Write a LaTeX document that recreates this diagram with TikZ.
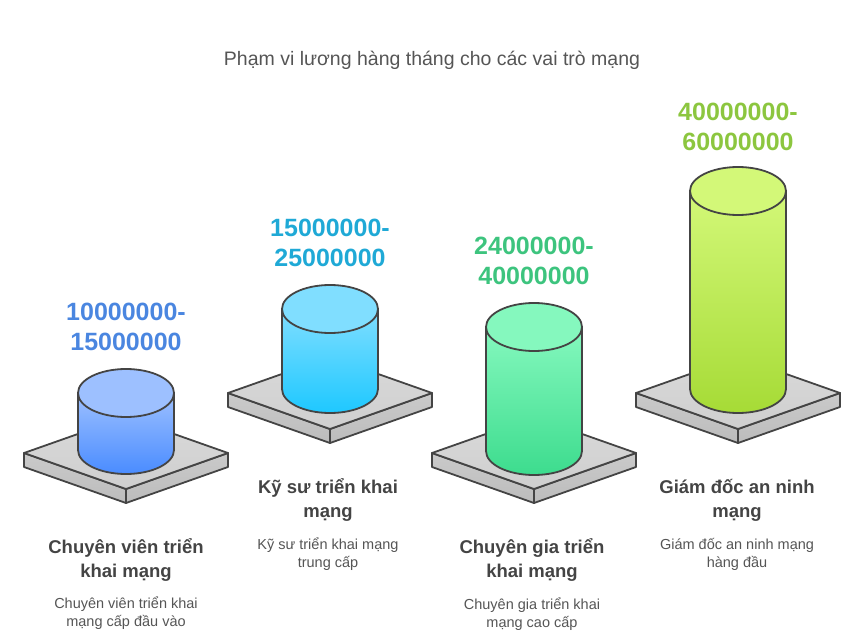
\documentclass[tikz,border=0pt]{standalone}
\usepackage{fontspec}
\setmainfont{Liberation Sans}
\usepackage{tikz}

\definecolor{linegray}{HTML}{444444}
\definecolor{sidetop}{HTML}{CACACA}
\definecolor{sidebot}{HTML}{BCBCBC}
\definecolor{plateback}{HTML}{D9D9D9}
\definecolor{platefront}{HTML}{CFCFCF}
\definecolor{titlegray}{HTML}{555555}
\definecolor{rolegray}{HTML}{444444}
\definecolor{descgray}{HTML}{555555}
\definecolor{bluetop}{HTML}{9DC0FF}
\definecolor{bluebot}{HTML}{4A8CFF}
\definecolor{blueval}{HTML}{4A86E0}
\definecolor{cyantop}{HTML}{80DEFF}
\definecolor{cyanbot}{HTML}{1EC8FF}
\definecolor{cyanval}{HTML}{1FA9D6}
\definecolor{greentop}{HTML}{85F8BE}
\definecolor{greenbot}{HTML}{3DDC8E}
\definecolor{greenval}{HTML}{3DC47E}
\definecolor{limetop}{HTML}{D3F878}
\definecolor{limebot}{HTML}{A6DB36}
\definecolor{limeval}{HTML}{8CC63F}

\begin{document}
\begin{tikzpicture}[line cap=round,line join=round,x=1pt,y=-1pt,
    edge/.style={draw=linegray,line width=1.8pt},
    plateside/.style={edge,top color=sidetop,bottom color=sidebot},
    platetop/.style={edge,top color=plateback,bottom color=platefront},
    valtext/.style={font=\fontsize{25}{30}\selectfont\bfseries,align=center},
    roletext/.style={font=\fontsize{18.5}{24}\selectfont\bfseries,align=center,text=rolegray},
    desctext/.style={font=\fontsize{14.5}{18}\selectfont,align=center,text=descgray}]
        \useasboundingbox (0,0) rectangle (860,642);
        % title
        \node[font=\fontsize{19.5}{22}\selectfont,text=titlegray] (title) at (432,60) {Phạm vi lương hàng tháng cho các vai trò mạng};
        % platforms
        \draw[plateside] (24,453) -- (126,489) -- (126,503) -- (24,467) -- cycle;
        \draw[plateside] (126,489) -- (228,453) -- (228,467) -- (126,503) -- cycle;
        \draw[platetop] (24,453) -- (126,417) -- (228,453) -- (126,489) -- cycle;
        \draw[plateside] (228,393) -- (330,429) -- (330,443) -- (228,407) -- cycle;
        \draw[plateside] (330,429) -- (432,393) -- (432,407) -- (330,443) -- cycle;
        \draw[platetop] (228,393) -- (330,357) -- (432,393) -- (330,429) -- cycle;
        \draw[plateside] (432,453) -- (534,489) -- (534,503) -- (432,467) -- cycle;
        \draw[plateside] (534,489) -- (636,453) -- (636,467) -- (534,503) -- cycle;
        \draw[platetop] (432,453) -- (534,417) -- (636,453) -- (534,489) -- cycle;
        \draw[plateside] (636,393) -- (738,429) -- (738,443) -- (636,407) -- cycle;
        \draw[plateside] (738,429) -- (840,393) -- (840,407) -- (738,443) -- cycle;
        \draw[platetop] (636,393) -- (738,357) -- (840,393) -- (738,429) -- cycle;
        % cylinders
        \draw[edge,top color=bluetop,bottom color=bluebot] (78,393) -- (78,450) arc[start angle=180,end angle=0,x radius=48,y radius=24] -- (174,393) -- cycle;
        \draw[edge,fill=bluetop] (126,393) ellipse[x radius=48,y radius=24];
        \draw[edge,top color=cyantop,bottom color=cyanbot] (282,309) -- (282,389) arc[start angle=180,end angle=0,x radius=48,y radius=24] -- (378,309) -- cycle;
        \draw[edge,fill=cyantop] (330,309) ellipse[x radius=48,y radius=24];
        \draw[edge,top color=greentop,bottom color=greenbot] (486,327) -- (486,451) arc[start angle=180,end angle=0,x radius=48,y radius=24] -- (582,327) -- cycle;
        \draw[edge,fill=greentop] (534,327) ellipse[x radius=48,y radius=24];
        \draw[edge,top color=limetop,bottom color=limebot] (690,191) -- (690,389) arc[start angle=180,end angle=0,x radius=48,y radius=24] -- (786,191) -- cycle;
        \draw[edge,fill=limetop] (738,191) ellipse[x radius=48,y radius=24];
        % values
        \node[valtext,text=blueval] (val1) at (126,327) {10000000-\\15000000};
        \node[valtext,text=cyanval] (val2) at (330,243) {15000000-\\25000000};
        \node[valtext,text=greenval] (val3) at (534,261) {24000000-\\40000000};
        \node[valtext,text=limeval] (val4) at (738,127) {40000000-\\60000000};
        % roles
        \node[roletext] (role1) at (126,560) {Chuyên viên triển\\khai mạng};
        \node[roletext] (role2) at (328,500) {Kỹ sư triển khai\\mạng};
        \node[roletext] (role3) at (532,560) {Chuyên gia triển\\khai mạng};
        \node[roletext] (role4) at (737,500) {Giám đốc an ninh\\mạng};
        \node[desctext] (desc1) at (126,613) {Chuyên viên triển khai\\mạng cấp đầu vào};
        \node[desctext] (desc2) at (328,554) {Kỹ sư triển khai mạng\\trung cấp};
        \node[desctext] (desc3) at (532,614) {Chuyên gia triển khai\\mạng cao cấp};
        \node[desctext] (desc4) at (737,554) {Giám đốc an ninh mạng\\hàng đầu};
    \end{tikzpicture}
\end{document}
